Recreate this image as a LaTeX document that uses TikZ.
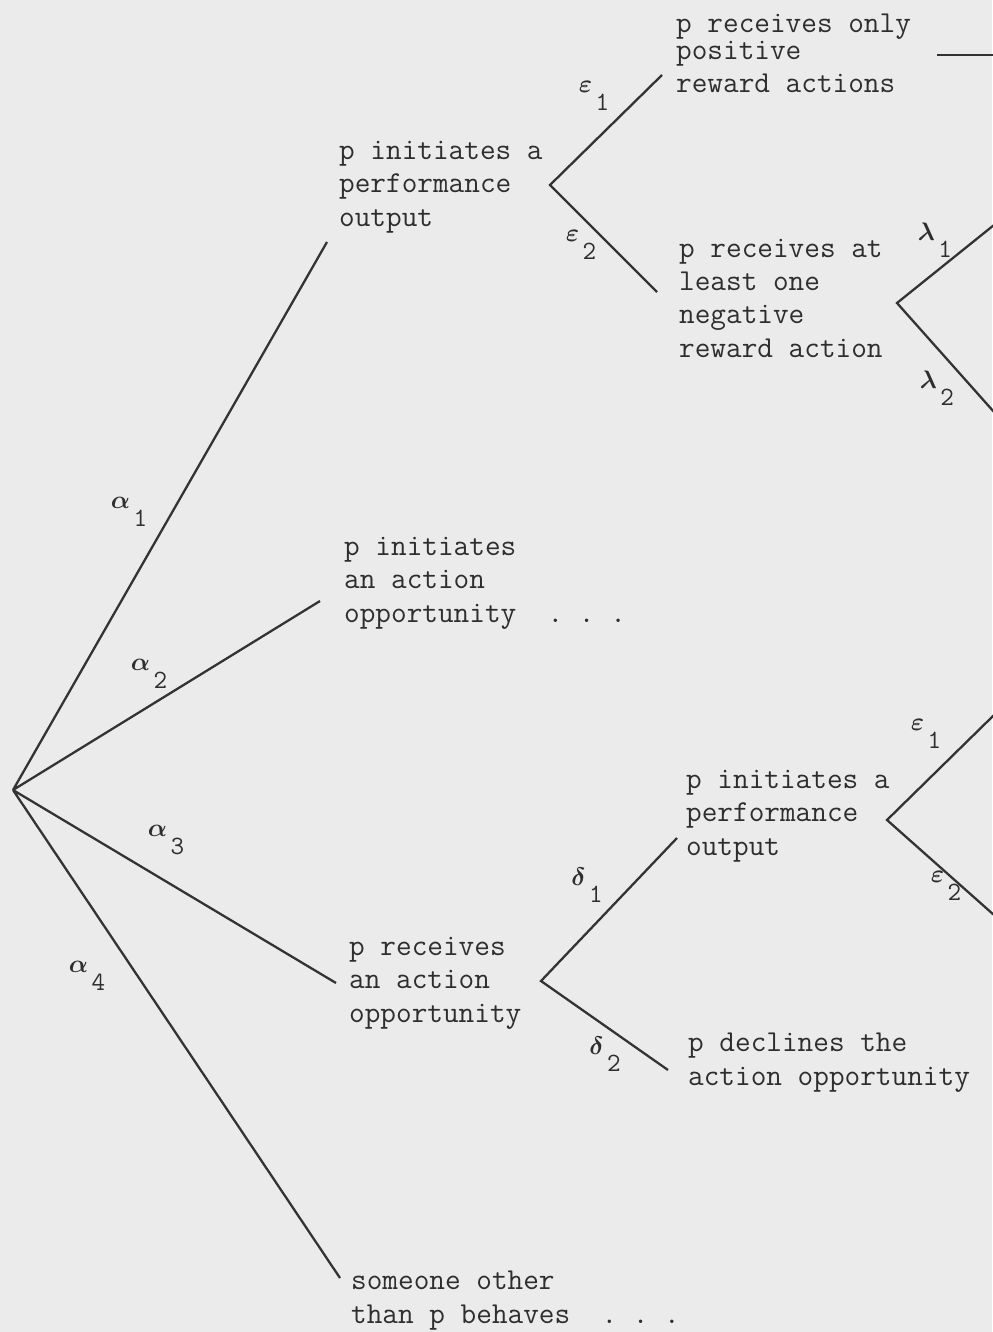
\documentclass[tikz,border=0pt]{standalone}
\usepackage{amsmath}
\usepackage{amssymb}
\usepackage{tikz}

\newcommand{\brlab}[2]{{\fontsize{15}{15}\selectfont$\boldsymbol{#1}$}\kern2pt\raisebox{-10pt}{\fontsize{15}{15}\selectfont\ttfamily #2}}

\begin{document}
\begin{tikzpicture}[x=0.02cm,y=-0.02cm,line width=1.3pt,
  every node/.style={text=black!82},
  txt/.style={anchor=base west,inner sep=0pt,align=left,font=\fontsize{17.3}{18.8}\selectfont\ttfamily},
  lab/.style={inner sep=0pt}]
\fill[black!8] (0,0) rectangle (992,1332);
\useasboundingbox (0,0) rectangle (992,1332);

\node[txt] (perf) at (338,226) {p initiates a\\performance\\output};
\node[txt] (onlypos) at (675,92) {p receives only\\[-3pt]positive\\[-0.5pt]reward actions};
\node[txt] (neg) at (678,357) {p receives at\\least one\\negative\\reward action};
\node[txt] (initopp) at (343,622) {p initiates\\an action\\opportunity~~.~.~.};
\node[txt] (recopp) at (348,1022) {p receives\\an action\\opportunity};
\node[txt] (perfb) at (685,855) {p initiates a\\performance\\output};
\node[txt] (decl) at (687,1085) {p declines the\\action opportunity};
\node[txt] (other) at (350,1323) {someone other\\than p behaves~~.~.~.};

\coordinate (root) at (13,790);
\coordinate (a1) at (327,242);
\coordinate (a2) at (320,601);
\coordinate (a3) at (336,983);
\coordinate (a4) at (340,1278);
\coordinate (fe) at (550,185);
\coordinate (e1) at (662,75);
\coordinate (e2) at (657,292);
\coordinate (h1) at (937,55);
\coordinate (h2) at (994,55);
\coordinate (fl) at (897,303);
\coordinate (l1) at (994,225);
\coordinate (l2) at (994,412);
\coordinate (fd) at (541,981);
\coordinate (d1) at (677,838);
\coordinate (d2) at (668,1070);
\coordinate (fe2) at (887,820);
\coordinate (e21) at (994,715);
\coordinate (e22) at (994,915);

\draw[black!80] (root)--(a1) (root)--(a2) (root)--(a3) (root)--(a4);
\draw[black!80] (e1)--(fe)--(e2);
\draw[black!80] (h1)--(h2);
\draw[black!80] (l1)--(fl)--(l2);
\draw[black!80] (d1)--(fd)--(d2);
\draw[black!80] (e21)--(fe2)--(e22);

\node[lab] (al1) at (129,512) {\brlab{\alpha}{1}};
\node[lab] (al2) at (149,674) {\brlab{\alpha}{2}};
\node[lab] (al3) at (166,840) {\brlab{\alpha}{3}};
\node[lab] (al4) at (87,976) {\brlab{\alpha}{4}};
\node[lab] (ep1) at (594,96) {\brlab{\varepsilon}{1}};
\node[lab] (ep2) at (581,245) {\brlab{\varepsilon}{2}};
\node[lab] (la1) at (935,240) {\brlab{\lambda}{1}};
\node[lab] (la2) at (937,388) {\brlab{\lambda}{2}};
\node[lab] (de1) at (587,885) {\brlab{\delta}{1}};
\node[lab] (de2) at (605,1054) {\brlab{\delta}{2}};
\node[lab] (epb1) at (926,734) {\brlab{\varepsilon}{1}};
\node[lab] (epb2) at (946,886) {\brlab{\varepsilon}{2}};

\end{tikzpicture}
\end{document}
